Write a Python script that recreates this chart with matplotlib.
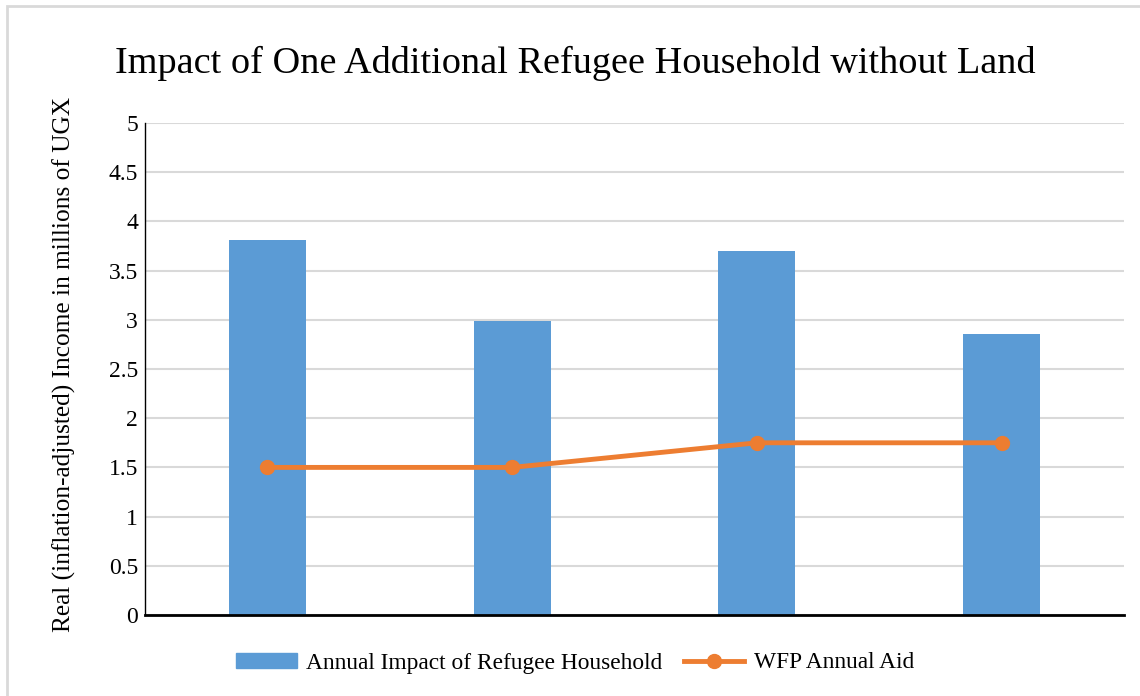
import matplotlib
matplotlib.use("Agg")
import matplotlib.pyplot as plt
from matplotlib.patches import Rectangle
from matplotlib.lines import Line2D

# values
categories = ["1", "2", "3", "4"]
impact = [3.81, 2.99, 3.70, 2.86]
wfp_aid = [1.5, 1.5, 1.75, 1.75]
yticks = [0, 0.5, 1, 1.5, 2, 2.5, 3, 3.5, 4, 4.5, 5]
ytick_labels = ["0", "0.5", "1", "1.5", "2", "2.5", "3", "3.5", "4", "4.5", "5"]

BLUE = "#5B9BD5"
ORANGE = "#ED7D31"
GRID = "#D9D9D9"

plt.rcParams["font.family"] = ["Liberation Serif", "DejaVu Serif"]

W, H = 1140, 696
fig = plt.figure(figsize=(W / 100, H / 100), dpi=100)
ax = fig.add_axes([145 / W, 1 - 615 / H, (1124 - 145) / W, (615 - 123) / H])

# light chart border (top and left visible, rest cut off by the image edge)
fig.patches.append(Rectangle((7 / W, -0.1), 1.2, 1 - 6 / H + 0.1, transform=fig.transFigure,
                             fill=False, edgecolor=GRID, linewidth=2, zorder=0))

x = list(range(len(categories)))
ax.bar(x, impact, width=0.315, color=BLUE, zorder=2, label="Annual Impact of Refugee Household")
ax.plot(x, wfp_aid, color=ORANGE, linewidth=3.5, marker="o", markersize=10, zorder=3,
        label="WFP Annual Aid")

ax.set_xlim(-0.5, len(categories) - 0.5)
ax.set_ylim(0, 5)
ax.set_yticks(yticks)
ax.set_yticklabels(ytick_labels, fontsize=17)
ax.set_xticks([])
ax.tick_params(axis="y", length=0, pad=5)
ax.grid(axis="y", color=GRID, linewidth=1.5, zorder=0)
ax.set_axisbelow(True)

for s in ["top", "right"]:
    ax.spines[s].set_visible(False)
ax.spines["left"].set_linewidth(1)
ax.spines["left"].set_color("black")
ax.spines["bottom"].set_linewidth(2)
ax.spines["bottom"].set_color("black")

ax.set_ylabel("Real (inflation-adjusted) Income in millions of UGX", fontsize=18.3)
ax.yaxis.set_label_coords((76 - 145) / (1124 - 145), 0.51)

fig.text(575 / W, 1 - 63 / H, "Impact of One Additional Refugee Household without Land",
         ha="center", va="center", fontsize=27.5)

handles = [Rectangle((0, 0), 1, 1, color=BLUE),
           Line2D([], [], color=ORANGE, linewidth=3.5, marker="o", markersize=10)]
fig.legend(handles, ["Annual Impact of Refugee Household", "WFP Annual Aid"],
           loc="center", bbox_to_anchor=(575 / W, 1 - 663 / H), ncol=2, frameon=False,
           fontsize=16.8, handlelength=2.6, handleheight=0.6, columnspacing=0.9, handletextpad=0.4)

fig.savefig("out.png", dpi=100)
